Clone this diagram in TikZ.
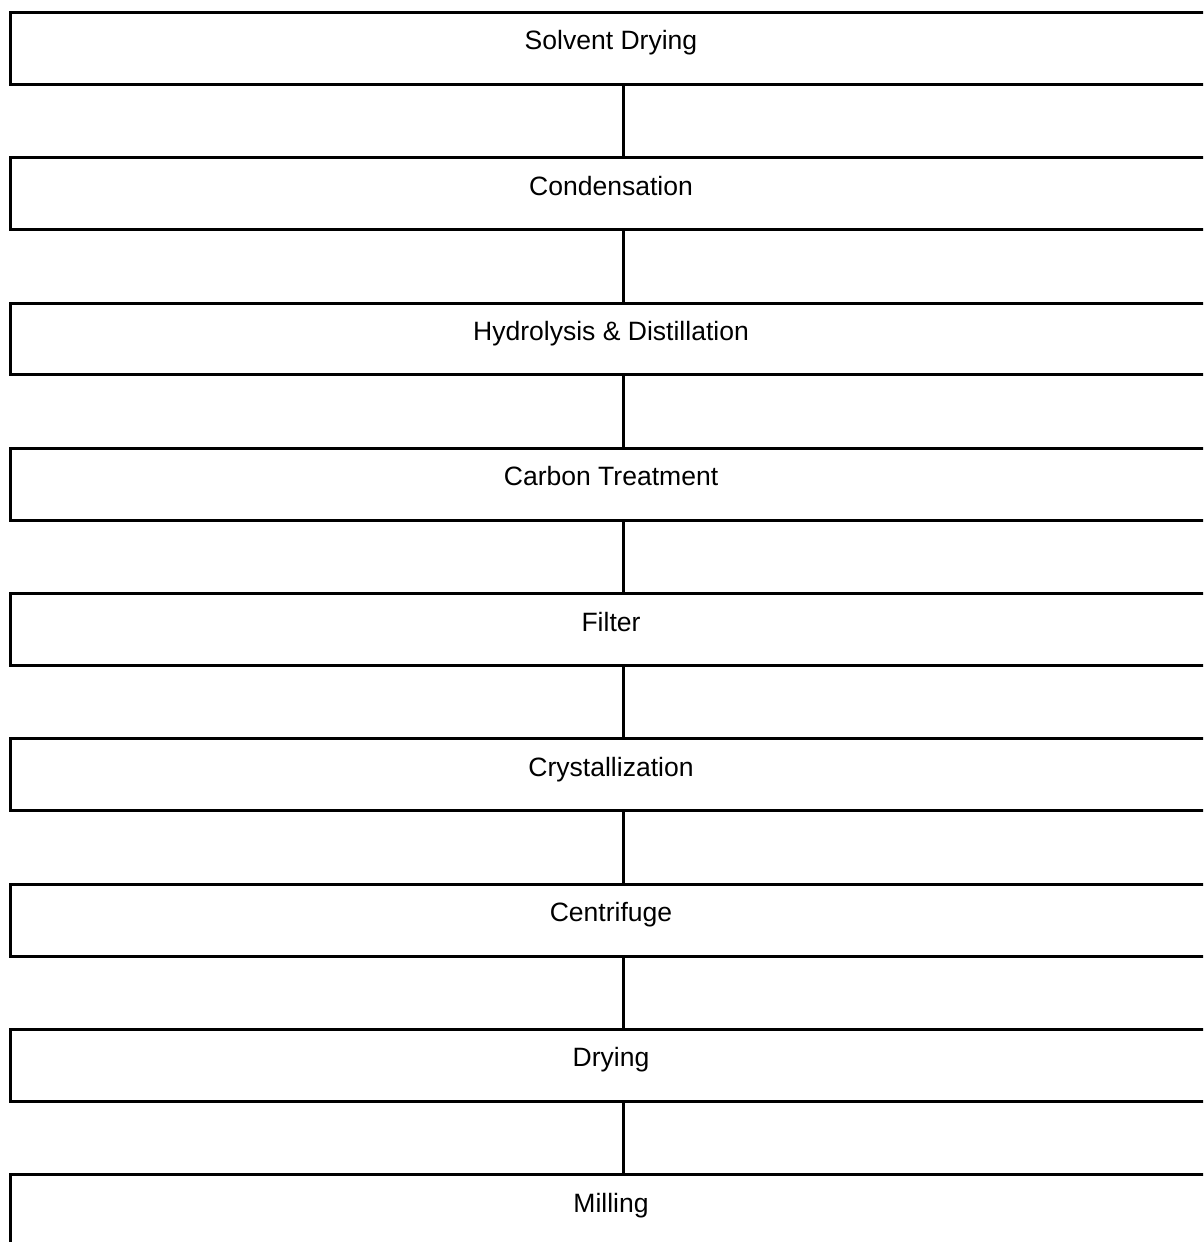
\documentclass[tikz,border=0pt]{standalone}
\usepackage{fontspec}
\setmainfont{Liberation Sans}
\usetikzlibrary{positioning,calc}
\tikzstyle{stage} = [ draw, rectangle, line width = 2.25pt, inner sep = 0pt, minimum width = 900.75pt, minimum height = 53.8pt, text height = 14.25pt, text depth = 12pt, font = \fontsize{19.9}{24}\selectfont ]
\tikzstyle{link} = [ -, line width = 2.25pt ]

\begin{document}
\begin{tikzpicture}[x=0.75pt, y=-0.75pt]
	\useasboundingbox ( 0, 0 ) rectangle ( 1203, 1242 );
	\clip ( 0, 0 ) rectangle ( 1203, 1242 );

	\node[stage] (solvent) at ( 611, 48.35 ) { Solvent Drying };
	\node[stage] (cond) at ( 611, 193.65 ) { Condensation };
	\node[stage] (hydro) at ( 611, 338.95 ) { Hydrolysis \& Distillation };
	\node[stage] (carbon) at ( 611, 484.25 ) { Carbon Treatment };
	\node[stage] (filter) at ( 611, 629.55 ) { Filter };
	\node[stage] (cryst) at ( 611, 774.85 ) { Crystallization };
	\node[stage] (centri) at ( 611, 920.15 ) { Centrifuge };
	\node[stage] (dry) at ( 611, 1065.45 ) { Drying };
	\node[stage] (mill) at ( 611, 1210.75 ) { Milling };

	\draw[link] ([xshift=9pt]solvent.south) -- ([xshift=9pt]cond.north);
	\draw[link] ([xshift=9pt]cond.south) -- ([xshift=9pt]hydro.north);
	\draw[link] ([xshift=9pt]hydro.south) -- ([xshift=9pt]carbon.north);
	\draw[link] ([xshift=9pt]carbon.south) -- ([xshift=9pt]filter.north);
	\draw[link] ([xshift=9pt]filter.south) -- ([xshift=9pt]cryst.north);
	\draw[link] ([xshift=9pt]cryst.south) -- ([xshift=9pt]centri.north);
	\draw[link] ([xshift=9pt]centri.south) -- ([xshift=9pt]dry.north);
	\draw[link] ([xshift=9pt]dry.south) -- ([xshift=9pt]mill.north);
\end{tikzpicture}
\end{document}
